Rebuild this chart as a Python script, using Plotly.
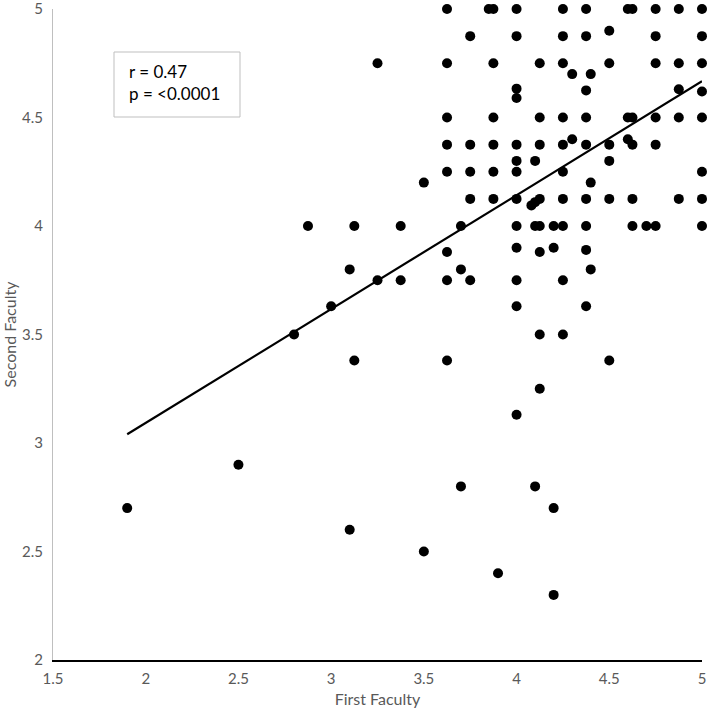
import plotly.graph_objects as go

# Scatter data (First Faculty vs Second Faculty).
first_faculty = [
    3.625, 3.85, 3.875, 4.0, 4.25, 4.375, 4.6, 4.625, 4.75, 4.875, 5.0,
    4.5,
    3.75, 4.0, 4.25, 4.375, 4.75, 5.0,
    3.25, 3.625, 3.875, 4.125, 4.25, 4.5, 4.75, 4.875, 5.0,
    4.3, 4.4,
    4.0, 4.375, 4.875, 5.0,
    4.0,
    3.625, 3.875, 4.125, 4.25, 4.375, 4.6, 4.625, 4.75, 4.875, 5.0,
    4.3, 4.6,
    3.625, 3.75, 3.875, 4.0, 4.125, 4.25, 4.375, 4.5, 4.625, 4.75,
    4.0, 4.1, 4.5,
    3.625, 3.75, 3.875, 4.0, 4.25, 5.0,
    3.5, 4.4,
    3.75, 3.875, 4.0, 4.125, 4.25, 4.375, 4.5, 4.625, 4.875, 5.0,
    4.08, 4.1,
    2.875, 3.125, 3.375, 3.7, 4.0, 4.1, 4.125, 4.2, 4.25, 4.375, 4.625, 4.7, 4.75, 5.0,
    4.0, 4.2,
    3.625, 4.125, 4.375,
    3.1, 3.7, 4.4,
    3.25, 3.375, 3.625, 3.75, 4.0, 4.25,
    3.0, 4.0, 4.375,
    2.8, 4.125, 4.25,
    3.125, 3.625, 4.5,
    4.125,
    4.0,
    2.5,
    3.7, 4.1,
    1.9, 4.2,
    3.1,
    3.5,
    3.9,
    4.2,
]
second_faculty = (
    [5.0] * 11
    + [4.9]
    + [4.875] * 6
    + [4.75] * 9
    + [4.7] * 2
    + [4.633, 4.625, 4.63, 4.62]
    + [4.59]
    + [4.5] * 10
    + [4.4] * 2
    + [4.375] * 10
    + [4.3] * 3
    + [4.25] * 6
    + [4.2] * 2
    + [4.125] * 10
    + [4.095, 4.11]
    + [4.0] * 14
    + [3.9] * 2
    + [3.88, 3.88, 3.89]
    + [3.8] * 3
    + [3.75] * 6
    + [3.63] * 3
    + [3.5] * 3
    + [3.38] * 3
    + [3.25]
    + [3.13]
    + [2.9]
    + [2.8] * 2
    + [2.7] * 2
    + [2.6]
    + [2.5]
    + [2.4]
    + [2.3]
)

# Linear trend line endpoints
trend_x = [1.9, 5.0]
trend_y = [3.04, 4.667]

x_ticks = [1.5, 2, 2.5, 3, 3.5, 4, 4.5, 5]
y_ticks = [2, 2.5, 3, 3.5, 4, 4.5, 5]

fig = go.Figure()
fig.add_trace(go.Scatter(
    x=first_faculty, y=second_faculty, mode="markers",
    marker=dict(color="black", size=10),
    showlegend=False, cliponaxis=False,
))
fig.add_trace(go.Scatter(
    x=trend_x, y=trend_y, mode="lines",
    line=dict(color="black", width=2.2),
    showlegend=False,
))

font = "Lato, 'Open Sans', sans-serif"
fig.update_layout(
    width=709, height=711,
    margin=dict(l=53, r=7, t=9, b=51),
    plot_bgcolor="white", paper_bgcolor="white",
    font=dict(family=font, size=15, color="#595959"),
    xaxis=dict(
        range=[1.4999, 5.0001], tickvals=x_ticks, ticktext=[str(v) for v in x_ticks],
        showgrid=False, zeroline=False, showline=True, automargin=False,
        linecolor="black", linewidth=1.5, ticks="", ticklabelstandoff=4,
        ticklabeloverflow="allow",
        title=dict(text="First Faculty", font=dict(size=16, color="#595959"), standoff=8),
    ),
    yaxis=dict(
        range=[1.9999, 5.0001], tickvals=y_ticks, ticktext=[str(v) for v in y_ticks],
        showgrid=False, zeroline=False, showline=True, automargin=False,
        linecolor="#bfbfbf", linewidth=1, ticks="", ticklabelstandoff=6,
        ticklabeloverflow="allow",
        title=dict(text="Second Faculty", font=dict(size=16, color="#595959"), standoff=8),
    ),
)

# stats box (frame + text)
fig.add_shape(
    type="rect", xref="paper", yref="paper",
    x0=(114 - 53) / 649, x1=(240 - 53) / 649,
    y0=(660 - 117) / 651, y1=(660 - 52) / 651,
    line=dict(color="#bfbfbf", width=1), fillcolor="white", layer="below",
)
fig.add_annotation(
    x=(127 - 53) / 649, y=(660 - 82.5) / 651, xref="paper", yref="paper",
    text="r = 0.47<br>p = <0.0001",
    showarrow=False, align="left",
    xanchor="left", yanchor="middle",
    font=dict(family=font, size=17, color="black"),
)

fig.write_html(
    "out.html",
    config={"displayModeBar": False},
    post_script="document.body.style.margin='0';",
)
